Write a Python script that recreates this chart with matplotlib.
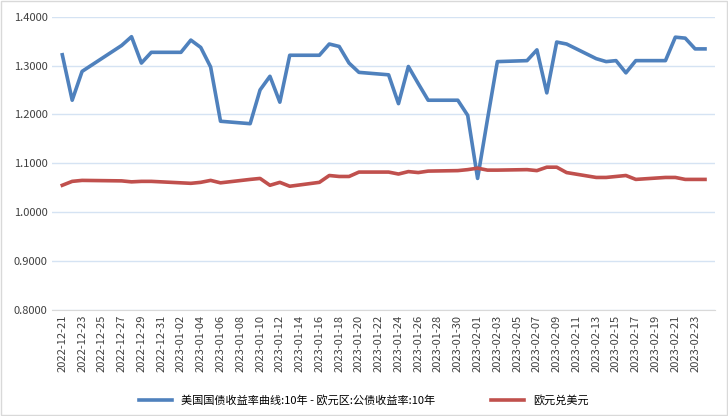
import numpy as np
import pandas as pd
import matplotlib
matplotlib.use('Agg')
import matplotlib.pyplot as plt
import matplotlib.dates as mdates

plt.rcParams['font.family'] = ['Noto Sans CJK SC', 'DejaVu Sans']

# trading days and values
dates = ['2022-12-21', '2022-12-22', '2022-12-23', '2022-12-27', '2022-12-28', '2022-12-29',
         '2022-12-30', '2023-01-02', '2023-01-03', '2023-01-04', '2023-01-05', '2023-01-06',
         '2023-01-09', '2023-01-10', '2023-01-11', '2023-01-12', '2023-01-13', '2023-01-16',
         '2023-01-17', '2023-01-18', '2023-01-19', '2023-01-20', '2023-01-23', '2023-01-24',
         '2023-01-25', '2023-01-26', '2023-01-27', '2023-01-30', '2023-01-31', '2023-02-01',
         '2023-02-02', '2023-02-03', '2023-02-06', '2023-02-07', '2023-02-08', '2023-02-09',
         '2023-02-10', '2023-02-13', '2023-02-14', '2023-02-15', '2023-02-16', '2023-02-17',
         '2023-02-20', '2023-02-21', '2023-02-22', '2023-02-23', '2023-02-24']
spread = [1.322, 1.229, 1.288, 1.341, 1.359, 1.305, 1.327, 1.327, 1.352, 1.337, 1.297, 1.186,
          1.181, 1.250, 1.278, 1.225, 1.321, 1.321, 1.344, 1.339, 1.305, 1.286, 1.281, 1.222,
          1.298, 1.263, 1.229, 1.229, 1.198, 1.069, 1.190, 1.308, 1.310, 1.332, 1.244, 1.348,
          1.344, 1.314, 1.308, 1.310, 1.285, 1.310, 1.310, 1.358, 1.356, 1.334, 1.334]
eurusd = [1.055, 1.063, 1.065, 1.064, 1.062, 1.063, 1.063, 1.060, 1.059, 1.061, 1.065, 1.060,
          1.067, 1.069, 1.055, 1.061, 1.053, 1.061, 1.075, 1.073, 1.073, 1.082, 1.082, 1.078,
          1.083, 1.081, 1.084, 1.085, 1.087, 1.090, 1.086, 1.086, 1.087, 1.085, 1.092, 1.092,
          1.081, 1.071, 1.071, 1.073, 1.075, 1.067, 1.071, 1.071, 1.067, 1.067, 1.067]
labels = ['美国国债收益率曲线:10年 - 欧元区:公债收益率:10年', '欧元兑美元']

x = pd.to_datetime(dates)

fig = plt.figure(figsize=(7.28, 4.16), dpi=100)
ax = fig.add_axes([0.072, 0.255, 0.910, 0.705])

ax.plot(x, spread, color='#4f81bd', lw=2.6, label=labels[0])
ax.plot(x, eurusd, color='#c0504d', lw=2.6, label=labels[1])

ax.set_ylim(0.8, 1.4)
ax.set_yticks(np.arange(0.8, 1.401, 0.1))
ax.yaxis.set_major_formatter(plt.FuncFormatter(lambda v, p: f'{v:.4f}'))
ax.set_xlim(pd.Timestamp('2022-12-20'), pd.Timestamp('2023-02-25'))
ax.xaxis.set_major_locator(mdates.DayLocator(interval=2))
ticks = pd.date_range('2022-12-21', '2023-02-23', freq='2D')
ax.set_xticks(ticks)
ax.set_xticklabels([t.strftime('%Y-%m-%d') for t in ticks], rotation=90)
ax.tick_params(labelsize=8, length=0, colors='#404040')
ax.grid(axis='y', color='#d5e3f3', lw=1)
for s in ['top', 'right', 'left']:
    ax.spines[s].set_visible(False)
ax.spines['bottom'].set_color('#d9d9d9')

fig.legend(loc='lower center', ncol=2, frameon=False, fontsize=8,
           bbox_to_anchor=(0.5, 0.0), columnspacing=5, handlelength=3)
fig.patches.append(plt.Rectangle((0.001, 0.002), 0.997, 0.995, transform=fig.transFigure,
                                 fill=False, ec='#d9d9d9', lw=1))
fig.savefig('out.png', dpi=100)
